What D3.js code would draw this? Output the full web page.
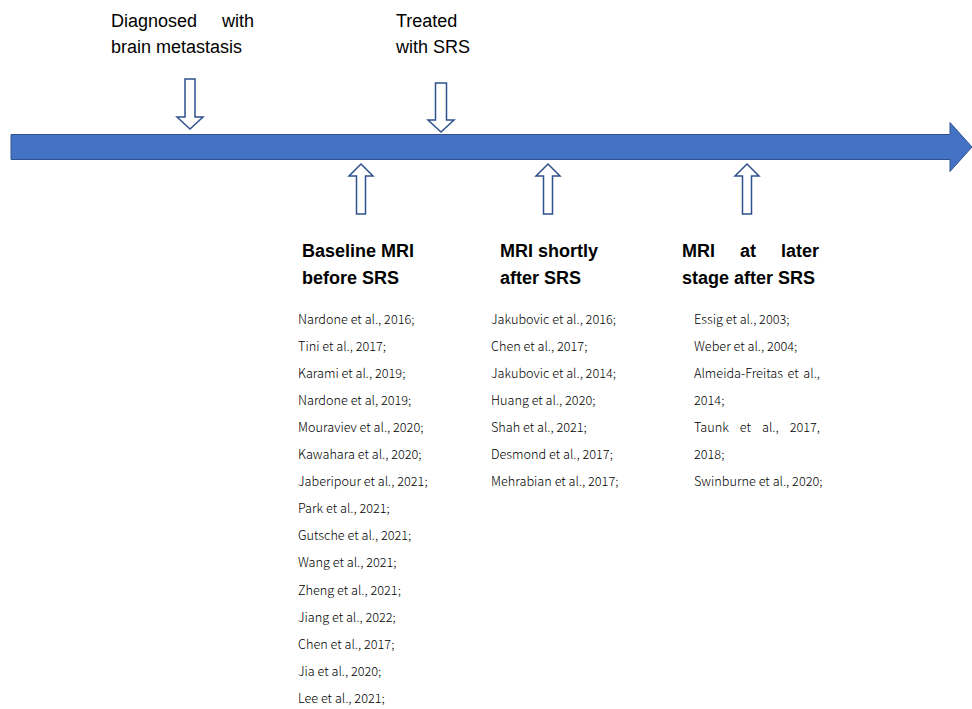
<!DOCTYPE html>
<html>
<head>
<meta charset="utf-8">
<script src="https://cdn.jsdelivr.net/npm/d3@7"></script>
<style>
  body { margin: 0; background: #fff; }
  svg { display: block; }
</style>
</head>
<body>
<div id="chart"></div>
<script>
// events above the timeline (each paragraph as wrapped lines)
const events = ["Diagnosed", "Treated"];
const eventLabels = [
    ["Diagnosed with", "brain metastasis"],
    ["Treated", "with SRS"]
];

// imaging stages below the timeline
const stages = ["Baseline", "Shortly", "Later"];
const stageTitles = [
    ["Baseline MRI", "before SRS"],
    ["MRI shortly", "after SRS"],
    ["MRI at later", "stage after SRS"]
];

// references per stage; an entry with two lines wraps
const baselineRefs = [
    ["Nardone et al., 2016;"], ["Tini et al., 2017;"], ["Karami et al., 2019;"],
    ["Nardone et al, 2019;"], ["Mouraviev et al., 2020;"], ["Kawahara et al., 2020;"],
    ["Jaberipour et al., 2021;"], ["Park et al., 2021;"], ["Gutsche et al., 2021;"],
    ["Wang et al., 2021;"], ["Zheng et al., 2021;"], ["Jiang et al., 2022;"],
    ["Chen et al., 2017;"], ["Jia et al., 2020;"], ["Lee et al., 2021;"]
];
const shortlyRefs = [
    ["Jakubovic et al., 2016;"], ["Chen et al., 2017;"], ["Jakubovic et al., 2014;"],
    ["Huang et al., 2020;"], ["Shah et al., 2021;"], ["Desmond et al., 2017;"],
    ["Mehrabian et al., 2017;"]
];
const laterRefs = [
    ["Essig et al., 2003;"], ["Weber et al., 2004;"],
    ["Almeida-Freitas et al.,", "2014;"], ["Taunk et al., 2017,", "2018;"],
    ["Swinburne et al., 2020;"]
];
const stageRefs = [baselineRefs, shortlyRefs, laterRefs];

const W = 972, H = 709;
const blue = "#4472C4", edge = "#2F528F";

const svg = d3.select("#chart").append("svg")
    .attr("width", W)
    .attr("height", H);

// x positions of the arrows on the timeline
const eventX = d3.scaleOrdinal().domain(events).range([190, 441]);
const stageX = d3.scaleOrdinal().domain(stages).range([361, 548, 747]);
// text block placement
const eventTextX = d3.scaleOrdinal().domain(events).range([111, 396]);
const eventWrap = d3.scaleOrdinal().domain(events).range([143, 80]);
const titleX = d3.scaleOrdinal().domain(stages).range([302, 500, 682]);
const titleWrap = d3.scaleOrdinal().domain(stages).range([120, 110, 137]);
const refX = d3.scaleOrdinal().domain(stages).range([298, 491, 694]);
const refWrap = d3.scaleOrdinal().domain(stages).range([130, 130, 126]);

// main timeline arrow
const line = d3.line();
const tl = { x0: 11, x1: 950, tip: 972, y: 147, half: 12.5, head: 24.5 };
svg.append("path")
    .attr("d", line([
        [tl.x0, tl.y - tl.half], [tl.x1, tl.y - tl.half], [tl.x1, tl.y - tl.head],
        [tl.tip, tl.y], [tl.x1, tl.y + tl.head], [tl.x1, tl.y + tl.half],
        [tl.x0, tl.y + tl.half]
    ]) + "Z")
    .attr("fill", blue)
    .attr("stroke", edge)
    .attr("stroke-width", 1);

// hollow block arrow: tail -> tip along y
function blockArrow(cx, tail, headBase, tip, shaftHalf, headHalf) {
    return line([
        [cx - shaftHalf, tail], [cx + shaftHalf, tail], [cx + shaftHalf, headBase],
        [cx + headHalf, headBase], [cx, tip], [cx - headHalf, headBase],
        [cx - shaftHalf, headBase]
    ]) + "Z";
}

svg.selectAll(".down-arrow")
    .data(events)
    .enter().append("path")
    .attr("class", "down-arrow")
    .attr("d", (d, i) => i === 0
        ? blockArrow(eventX(d), 79, 117, 129, 5, 13)
        : blockArrow(eventX(d), 83, 120, 132, 5.5, 13))
    .attr("fill", "#fff")
    .attr("stroke", edge)
    .attr("stroke-width", 1.5);

svg.selectAll(".up-arrow")
    .data(stages)
    .enter().append("path")
    .attr("class", "up-arrow")
    .attr("d", d => blockArrow(stageX(d), 214, 176, 164, 4.5, 12))
    .attr("fill", "#fff")
    .attr("stroke", edge)
    .attr("stroke-width", 1.5);

// draw a text line, spreading words over `width` when justify is set
function drawLine(g, str, x, y, width, justify, font) {
    const words = str.split(" ");
    if (!justify || words.length < 2) {
        g.append("text").attr("x", x).attr("y", y).style("font", font).text(str);
        return;
    }
    const nodes = words.map(w => g.append("text").attr("y", y).style("font", font).text(w));
    const widths = nodes.map(n => n.node().getComputedTextLength());
    const gap = Math.max(3, (width - d3.sum(widths)) / (words.length - 1));
    let cx = x;
    nodes.forEach((n, i) => { n.attr("x", cx); cx += widths[i] + gap; });
}

const topFont = "18px 'Liberation Sans', Arial, sans-serif";
const titleFont = "bold 18px 'Liberation Sans', Arial, sans-serif";
const refFont = "300 12.7px 'Noto Sans CJK SC', 'Noto Sans', sans-serif";

events.forEach((e, i) => {
    const g = svg.append("g").attr("fill", "#000");
    eventLabels[i].forEach((s, j) => {
        drawLine(g, s, eventTextX(e), 27 + j * 26, eventWrap(e),
            j < eventLabels[i].length - 1 && i === 0, topFont);
    });
});

stages.forEach((s, i) => {
    const g = svg.append("g").attr("fill", "#000");
    stageTitles[i].forEach((t, j) => {
        drawLine(g, t, titleX(s), 257 + j * 27, titleWrap(s), i === 2 && j === 0, titleFont);
    });
    const rg = svg.append("g").attr("fill", "#000");
    let row = 0;
    stageRefs[i].forEach(entry => {
        entry.forEach((t, j) => {
            drawLine(rg, t, refX(s), 324 + row * 27.05, refWrap(s), j < entry.length - 1, refFont);
            row++;
        });
    });
});
</script>
</body>
</html>
